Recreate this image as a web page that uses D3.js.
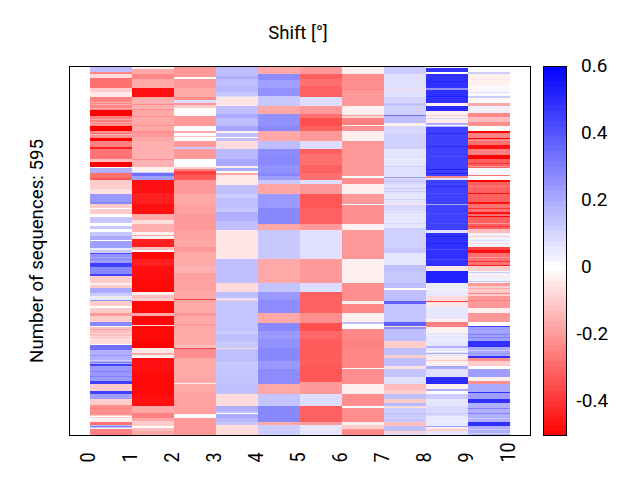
<!DOCTYPE html>
<html><head><meta charset="utf-8">
<script src="https://cdn.jsdelivr.net/npm/d3@7"></script>
<style>html,body{margin:0;padding:0;background:#fff}svg{display:block}text{font-family:Roboto,sans-serif;fill:#000}</style>
</head><body><svg id="c" width="640" height="480"></svg>
<script>
const rowCount = 595;
const columnLabels = ["0","1","2","3","4","5","6","7","8","9","10"];
const colorTicks = [0.6,0.4,0.2,0,-0.2,-0.4];
const titleText = "Shift [°]";
const yLabelText = "Number of sequences: 595";
// each entry: [last row of the run, shift value]
const col0 = [[8,.15],[11,-.235],[17,-.07],[34,-.28],[40,-.1],[48,-.04],[53,-.25],[70,-.235],[79,-.5],[95,-.25],[104,-.5],[114,-.22],[120,-.5],[130,-.25],[132,-.44],[149,-.27],[153,-.13],[162,-.5],[164,0],[172,.185],[180,-.28],[183,-.33],[197,-.1],[205,-.06],[218,.24],[222,.28],[233,-.1],[238,-.1],[243,0],[253,.13],[257,0],[262,.13],[266,0],[273,.13],[279,.2],[281,0],[292,.225],[296,.055],[300,.12],[303,.41],[317,.26],[324,.45],[334,.28],[338,.45],[349,-.1],[352,-.03],[358,-.1],[365,.2],[370,.12],[376,.055],[378,.26],[386,-.1],[389,0],[397,-.1],[403,-.2],[413,-.1],[418,.28],[420,0],[438,-.13],[448,-.07],[450,0],[457,.337],[481,.185],[483,.45],[508,.24],[512,.45],[524,-.1],[529,.45],[537,.225],[547,-.1],[562,-.22],[567,-.1],[574,-.03],[579,-.28],[586,.15],[595,-.25]];
const col1 = [[4,-.03],[12,-.17],[19,-.235],[34,-.17],[49,-.47],[52,-.17],[68,-.155],[79,-.17],[103,-.17],[106,-.22],[113,-.2],[122,-.17],[148,-.155],[150,-.22],[162,-.155],[169,-.03],[172,.12],[177,.337],[183,.225],[203,-.47],[222,-.44],[238,-.47],[247,-.17],[254,-.06],[267,-.155],[271,-.03],[273,-.17],[278,-.03],[291,-.44],[296,-.13],[299,0],[310,-.485],[322,-.44],[343,-.47],[364,-.485],[368,-.03],[374,-.13],[378,-.1],[397,-.485],[402,-.17],[417,-.485],[419,-.07],[443,-.485],[454,-.5],[463,-.05],[465,-.17],[471,-.03],[494,-.47],[510,-.485],[532,-.485],[548,-.47],[559,-.17],[567,-.25],[572,-.17],[580,-.1],[583,0],[589,-.13],[595,-.17]];
const col2 = [[16,-.2],[19,0],[34,-.2],[49,-.17],[53,-.22],[58,.08],[62,-.2],[67,-.1],[79,0],[82,-.2],[95,-.2],[103,0],[106,-.17],[111,0],[113,-.13],[120,0],[130,-.2],[133,.12],[148,-.2],[161,0],[165,-.1],[168,-.25],[174,-.375],[175,-.07],[183,-.33],[206,-.2],[222,-.17],[238,-.185],[263,-.2],[279,-.185],[291,-.17],[299,-.2],[322,-.17],[333,-.155],[360,-.185],[375,-.17],[377,-.375],[397,-.17],[402,-.2],[416,-.17],[419,-.2],[450,-.17],[454,-.13],[456,-.36],[471,-.22],[511,-.17],[513,-.03],[527,-.17],[559,-.185],[561,-.2],[567,0],[595,-.2]];
const col3 = [[15,.15],[19,.185],[31,.15],[40,.165],[47,.13],[49,.08],[63,-.05],[76,.15],[82,.2],[95,.15],[103,.21],[106,-.03],[113,.15],[115,0],[120,.15],[133,-.07],[148,.165],[160,.205],[163,-.03],[168,.2],[171,0],[174,-.17],[190,-.045],[206,.15],[211,.12],[228,.15],[235,.13],[249,.185],[253,.15],[264,.15],[310,-.05],[322,.15],[350,.15],[364,-.07],[373,.15],[376,.07],[378,-.1],[427,.14],[432,.12],[443,.15],[454,.13],[456,-.07],[475,.15],[489,.13],[511,.14],[529,.15],[548,-.07],[556,.185],[559,.15],[561,0],[568,.2],[574,.165],[579,.13],[595,-.07]];
const col4 = [[11,-.17],[21,.27],[34,.225],[47,.26],[63,.13],[76,-.17],[95,.26],[103,.28],[120,-.17],[133,.15],[144,.27],[158,.28],[171,.26],[176,.28],[183,.225],[189,.13],[205,-.175],[228,.24],[254,.28],[264,-.17],[310,.13],[349,-.17],[364,.14],[376,.24],[397,.27],[414,-.17],[427,.28],[440,.24],[454,.26],[475,.28],[489,.24],[513,.27],[529,-.17],[548,.14],[574,.28],[579,-.17],[595,.12]];
const col5 = [[11,-.2],[20,-.31],[31,-.28],[49,-.31],[63,.08],[76,-.2],[82,-.28],[95,-.345],[103,-.31],[120,-.2],[133,.08],[141,-.31],[158,-.28],[171,-.31],[183,-.28],[189,.08],[205,-.2],[228,-.33],[254,-.31],[264,-.2],[310,.07],[349,-.2],[364,.08],[397,-.31],[414,-.22],[427,-.345],[440,-.3],[483,-.32],[510,-.33],[529,-.2],[548,.08],[574,-.31],[579,-.2],[595,.06]];
const col6 = [[11,-.03],[36,-.22],[37,-.25],[63,-.2],[77,-.03],[79,-.2],[82,-.07],[93,-.25],[95,-.03],[103,-.22],[120,-.03],[176,-.2],[180,0],[189,-.22],[205,-.03],[222,-.2],[223,0],[254,-.22],[264,-.03],[310,-.2],[349,-.03],[378,-.22],[383,-.03],[397,-.235],[412,-.03],[415,.15],[424,0],[443,-.235],[454,-.25],[487,-.235],[488,0],[513,-.22],[529,-.03],[548,-.22],[551,0],[574,-.22],[579,-.03],[586,-.1],[589,-.22],[595,-.235]];
const col7 = [[11,.12],[36,.07],[37,-.07],[49,.07],[58,.1],[63,.13],[78,.11],[80,.337],[91,.15],[95,-.03],[109,.09],[125,.11],[133,.11],[160,.06],[178,.07],[180,.225],[189,.1],[205,.07],[222,.06],[223,-.06],[233,.09],[260,.06],[293,.11],[300,.13],[320,.06],[330,.15],[349,.13],[358,.16],[361,0],[379,.15],[383,.375],[412,.14],[418,.375],[421,-.07],[424,.26],[443,.15],[454,-.1],[466,.15],[471,-.1],[483,.15],[488,-.06],[501,.14],[513,.07],[522,-.13],[529,-.1],[537,.15],[544,-.1],[548,.165],[551,-.07],[574,.12],[581,-.13],[589,.15],[591,-.1],[595,.08]];
const col8 = [[2,0],[8,.48],[11,0],[34,.487],[37,.26],[58,.487],[63,-.03],[71,.5],[74,-.03],[90,-.03],[96,.185],[176,.45],[179,-.235],[183,.07],[222,.45],[223,.2],[264,.45],[268,.07],[322,.487],[330,-.05],[349,.52],[360,.05],[370,.055],[378,-.07],[380,-.375],[388,-.05],[408,.06],[413,-.03],[421,-.25],[430,-.03],[451,.06],[454,.185],[467,.06],[483,-.04],[488,.2],[501,.07],[513,.5],[521,-.03],[524,.2],[529,0],[537,.12],[548,.06],[564,.09],[581,.055],[582,.225],[586,-.03],[589,-.1],[595,.06]];
const col9 = [[8,0],[11,.12],[31,-.03],[47,.015],[50,.12],[58,0],[63,-.17],[74,.04],[81,-.235],[89,-.13],[95,-.22],[103,0],[107,-.5],[114,-.25],[116,-.5],[126,-.28],[132,-.47],[142,-.25],[148,-.5],[163,-.31],[174,.02],[176,-.28],[183,0],[186,-.5],[203,-.31],[205,-.47],[219,-.31],[222,-.47],[234,-.28],[238,-.47],[241,-.28],[243,-.5],[262,-.31],[268,-.13],[291,.03],[296,-.375],[301,-.47],[320,-.28],[322,-.44],[330,-.1],[349,.03],[354,-.2],[370,-.1],[389,-.2],[397,-.03],[413,-.2],[419,0],[421,.45],[443,.225],[452,.487],[467,.2],[471,.487],[475,-.22],[483,-.1],[488,0],[501,.225],[508,-.03],[513,-.22],[526,.2],[527,.48],[537,.225],[544,.487],[574,.185],[581,.487],[595,.185]];
// single sequences that stand out of a run: [row, shift value]
const lines0 = [[57,-.17],[60,-.17],[66,-.17],[84,-.17],[89,-.17],[92,-.17],[106,-.28],[109,-.13],[228,0],[308,.2],[314,.2],[423,-.17],[430,-.07],[435,-.07],[460,.12],[466,.26],[473,.12],[477,.3],[492,.3],[500,.3],[552,-.25],[565,0],[580,.3],[583,0]];
const lines1 = [[60,-.22],[68,-.22],[79,-.22],[93,-.22]];
const lines7 = [[60,.15],[68,.1],[114,.13],[144,.08],[149,.04],[160,.12],[184,.13],[195,.12],[200,.11],[214,.11],[235,.1],[252,.1],[559,.15],[570,.15]];
const lines8 = [[23,.52],[47,.52],[77,-.1],[82,.1],[87,-.05],[91,.2],[93,0],[95,.2],[106,.5],[128,.5],[144,.42],[165,.52],[171,.52],[192,.5],[203,.42],[211,.5],[236,.42],[252,.42],[273,.52],[284,.52],[295,.42],[311,.42],[359,-.03],[434,.03],[440,.03],[459,.02],[462,.2],[473,-.1],[478,.02],[559,.12],[572,.03]];
const lines9 = [[20,-.05],[36,-.03],[41,.08],[52,-.03],[68,-.03],[118,-.2],[155,-.4],[160,-.2],[192,-.25],[211,-.2],[228,-.4],[252,-.2],[257,-.4],[273,-.1],[279,.08],[284,-.07],[308,-.2],[314,-.4],[332,.12],[338,-.05],[346,.12],[357,-.17],[365,-.25],[376,-.25],[382,-.2],[427,.2],[431,.3],[437,.3],[457,.12],[462,.26],[551,.3],[559,.3],[567,.12],[586,.12],[591,.12]];
const columns = [col0,col1,col2,col3,col4,col5,col6,col7,col8,col9];
const lineColumns = [lines0,lines1,[],[],[],[],[],lines7,lines8,lines9];
const colorDomain = [-0.5,0,0.6];

const svg = d3.select("#c");
const color = d3.scaleLinear().domain(colorDomain).range(["#ff0000","#ffffff","#0000ff"]);
const x = d3.scaleLinear().domain([-0.5,10.5]).range([69,530.5]);
const y = d3.scaleLinear().domain([0,rowCount]).range([67,435]);
const cb = d3.scaleLinear().domain([0.6,-0.5]).range([66,435.5]);

svg.append("g").selectAll("g").data(columns).join("g").each(function(col,i){
  let start = 0;
  const runs = col.map(([end,v])=>{const r={start,end,v};start=end;return r;});
  lineColumns[i].forEach(([row,v])=>runs.push({start:row,end:row+1.6,v}));
  d3.select(this).selectAll("rect").data(runs).join("rect")
    .attr("x",x(i)).attr("width",x(i+1)-x(i))
    .attr("y",d=>y(d.start)).attr("height",d=>y(d.end)-y(d.start))
    .attr("fill",d=>color(d.v)).attr("shape-rendering","crispEdges");
});
svg.append("rect").attr("x",69.5).attr("y",66.5).attr("width",461).attr("height",369)
  .attr("fill","none").attr("stroke","#000").attr("stroke-width",1);

svg.append("g").selectAll("text").data(columnLabels).join("text")
  .attr("transform",(d,i)=>`translate(${x(i)+5},462.5) rotate(-90) scale(0.9,1)`)
  .attr("font-size",20).attr("text-anchor","start").text(d=>d);

const cbSteps = d3.range(0,74);
svg.append("g").selectAll("rect").data(cbSteps).join("rect")
  .attr("x",543.5).attr("width",23)
  .attr("y",d=>cb(0.6-1.1*d/74)).attr("height",d=>cb(0.6-1.1*(d+1)/74)-cb(0.6-1.1*d/74)+0.5)
  .attr("fill",d=>color(0.6-1.1*(d+0.5)/74)).attr("shape-rendering","crispEdges");
svg.append("rect").attr("x",543.5).attr("y",66.5).attr("width",23).attr("height",369)
  .attr("fill","none").attr("stroke","#000");
svg.append("g").selectAll("text").data(colorTicks).join("text")
  .attr("x",d=>d<0?576.5:581).attr("y",d=>cb(d)+5.5).attr("font-size",19)
  .text(d=>String(d));

svg.append("text").attr("x",298).attr("y",39).attr("text-anchor","middle").attr("font-size",18.5).text(titleText);
svg.append("text").attr("transform","translate(42.5,251) rotate(-90)").attr("text-anchor","middle").attr("font-size",18.7).text(yLabelText);
</script></body></html>
